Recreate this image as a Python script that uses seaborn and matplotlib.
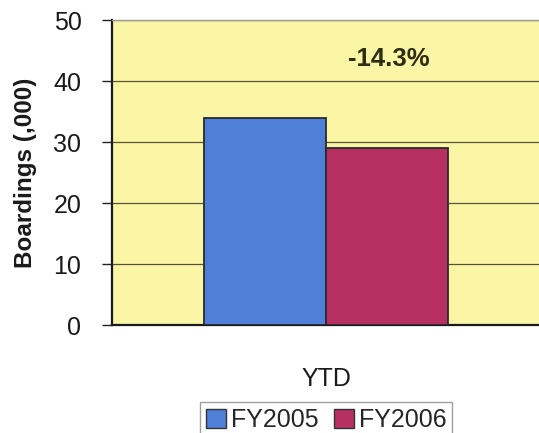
import matplotlib
matplotlib.use("Agg")
import matplotlib.pyplot as plt
import seaborn as sns
import pandas as pd
from matplotlib.patches import Patch

# Year-to-date boardings, in thousands
categories = ["YTD"]
years = ["FY2005", "FY2006"]
boardings = [33.9, 29.05]
change_label = "-14.3%"
y_ticks = [0, 10, 20, 30, 40, 50]

colors = ["#4F7FD6", "#B83062"]

sns.set_theme(style="white")
plt.rcParams["font.family"] = ["Liberation Sans", "DejaVu Sans"]

df = pd.DataFrame({
    "period": categories * len(years),
    "year": years,
    "boardings": boardings,
})

fig = plt.figure(figsize=(5.39, 4.33), dpi=100)
fig.patch.set_facecolor("white")
ax = fig.add_axes([0.2078, 0.2494, 0.7942, 0.7044])
ax.set_facecolor("#FAF6A6")

sns.barplot(data=df, x="period", y="boardings", hue="year", palette=colors,
            width=0.57, gap=0, edgecolor="#2a2a2a", linewidth=1.3,
            saturation=1, ax=ax, legend=False, zorder=3)

ax.set_ylim(0, 50)
ax.set_xlim(-0.5, 0.5)
ax.set_yticks(y_ticks)
ax.yaxis.grid(True, color="#3a3a2a", linewidth=0.9, alpha=0.85, zorder=0)
ax.set_axisbelow(True)

ax.tick_params(axis="y", labelsize=18, length=7, width=1, direction="out",
               color="#222222", pad=15, left=True, labelcolor="#1a1a1a")
ax.tick_params(axis="x", labelsize=18, length=0, pad=30, labelcolor="#1a1a1a")

ax.set_xlabel("")
ax.set_ylabel("Boardings (,000)", fontsize=17.5, fontweight="bold",
              color="#1a1a1a", labelpad=12)

for side in ["left", "bottom"]:
    ax.spines[side].set_color("#1a1a1a")
    ax.spines[side].set_linewidth(1.6)
ax.spines["top"].set_color("#9a9a9a")
ax.spines["top"].set_linewidth(1.0)
ax.spines["right"].set_visible(False)

ax.text(0.147, 43.6, change_label, ha="center", va="center", fontsize=18.5,
        fontweight="bold", color="#2e2e14", zorder=5)

handles = [Patch(facecolor=c, edgecolor="#333333", linewidth=1.0) for c in colors]
fig.legend(handles, years, loc="upper center", bbox_to_anchor=(0.605, 0.072),
           ncol=2, fontsize=18, frameon=True, fancybox=False,
           edgecolor="#8a8a8a", handlelength=0.8, handleheight=0.8,
           handletextpad=0.2, columnspacing=0.6, borderpad=0.25,
           borderaxespad=0)

fig.savefig("out.png", dpi=100, facecolor="white")
